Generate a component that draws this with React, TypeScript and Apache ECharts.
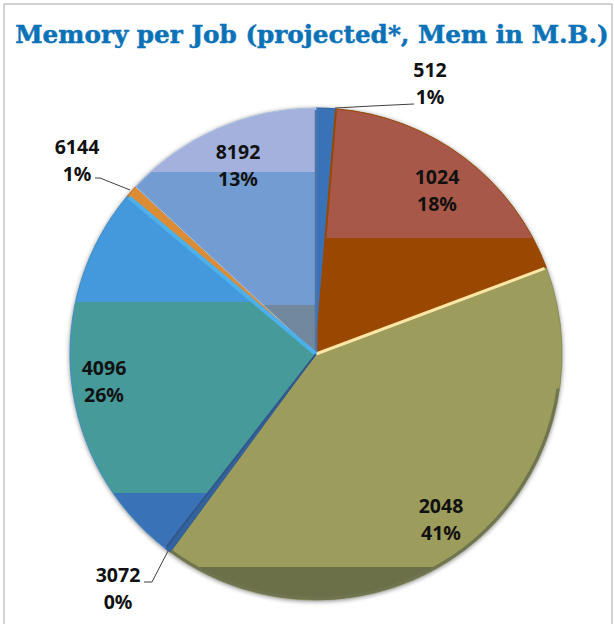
import React, { useEffect, useRef } from "react";
import * as echarts from "echarts";

const categories = ["512", "1024", "2048", "3072", "4096", "6144", "8192"];
const values = [1.3, 18.0, 40.8, 0.4, 25.6, 0.8, 13.1];
const titleText = "Memory per Job (projected*, Mem in M.B.)";

const CX = 316, CY = 354, R = 246;

function bands(stops: [number, string][]) {
  const top = CY - R, bottom = CY + R;
  const colorStops: { offset: number; color: string }[] = [];
  let prev = 0;
  stops.forEach(([y, c]) => {
    const o = Math.min(1, (y - top) / (bottom - top));
    colorStops.push({ offset: prev, color: c }, { offset: o, color: c });
    prev = o;
  });
  return { type: "linear", global: true, x: 0, y: top, x2: 0, y2: bottom, colorStops } as any;
}

const fills = [
  bands([[610, "#3a72b8"]]),
  bands([[238, "#a85848"], [610, "#9a4800"]]),
  bands([[567, "#9c9c5c"], [610, "#6c7048"]]),
  bands([[610, "#33639f"]]),
  bands([[302, "#4498dc"], [493, "#469a9a"], [610, "#3a72b8"]]),
  bands([[610, "#dc8c34"]]),
  bands([[172, "#a3b1dc"], [305, "#739dd2"], [610, "#72889f"]]),
];
const edges = ["#2f62a0", "#9a4800", "#8f9058", "#2f5c96", "#3f8fc8", "#b86c1c", "#a9c4e6"];

const labelSpots: Record<string, any> = {
  "512": { x: 430, y: 83, line: [[335, 108], [372, 106], [414, 104]] },
  "6144": { x: 77, y: 160, line: [[130, 190], [100, 178], [95, 178]] },
  "3072": { x: 118, y: 588, line: [[168, 551], [152, 582], [144, 582]] },
};
const insideSpots: Record<string, any> = {
  "1024": { x: 437, y: 190 },
  "2048": { x: 441, y: 519 },
  "4096": { x: 104, y: 381 },
  "8192": { x: 238, y: 165 },
};

// boundary angle (clockwise from 12 o'clock, in radians) after slice i, taken from the data
const total = values.reduce((a, b) => a + b, 0);
function boundary(i: number) {
  let s = 0;
  for (let k = 0; k <= i; k++) s += values[k];
  return (s / total) * Math.PI * 2;
}
function edgeLine(i: number, color: string, lineWidth: number) {
  const a = boundary(i);
  return {
    type: "line",
    z: 10,
    silent: true,
    shape: { x1: CX, y1: CY, x2: CX + (R - 2) * Math.sin(a), y2: CY - (R - 2) * Math.cos(a) },
    style: { stroke: color, lineWidth },
  };
}
function rim(i: number, skip: number, color: string, lineWidth: number) {
  return {
    type: "arc",
    z: 10,
    silent: true,
    shape: {
      cx: CX,
      cy: CY,
      r: R - 1.5,
      startAngle: boundary(i - 1) + skip - Math.PI / 2,
      endAngle: boundary(i) - Math.PI / 2,
    },
    style: { stroke: color, fill: "none", lineWidth },
  };
}

export default function App() {
  const ref = useRef<HTMLDivElement>(null);
  useEffect(() => {
    const chart = echarts.init(ref.current!, null, { renderer: "svg" });
    chart.setOption({
      animation: false,
      backgroundColor: "#ffffff",
      title: {
        text: titleText,
        left: 307,
        top: 17,
        textAlign: "center",
        textStyle: {
          fontFamily: "DejaVu Serif",
          fontWeight: "bold",
          fontSize: 24.7,
          color: "#0b72b8",
          textBorderColor: "#0b72b8",
          textBorderWidth: 0.5,
        },
      },
      graphic: [
        { type: "rect", z: 0, shape: { x: 4, y: 4, width: 608, height: 700 }, style: { fill: "none", stroke: "#a6a6a6", lineWidth: 1 } },
        { type: "circle", z: 0, shape: { cx: CX, cy: CY, r: R }, style: { fill: "#888888", shadowBlur: 5, shadowColor: "rgba(0,0,0,0.55)", shadowOffsetY: 1 } },
        rim(2, 0.5, "#6e7550", 3),
        edgeLine(0, "#9a4800", 2),
        edgeLine(6, "#4f76a8", 2.5),
        edgeLine(1, "#fde6a6", 3),
        edgeLine(4, "#4cb0ec", 4),
        edgeLine(3, "#33568a", 2),
      ],
      series: [
        {
          type: "pie",
          z: 2,
          center: [CX, CY],
          radius: [0, R],
          startAngle: 90,
          clockwise: true,
          avoidLabelOverlap: false,
          percentPrecision: 0,
          data: categories.map((name, i) => ({
            name,
            value: values[i],
            itemStyle: { color: fills[i], borderColor: edges[i], borderWidth: 1 },
          })),
          label: {
            show: true,
            position: "outside",
            formatter: "{b}\n{d}%",
            fontFamily: "Noto Sans",
            fontWeight: "bold",
            fontSize: 19.5,
            lineHeight: 27,
            color: "#111111",
            align: "center",
          },
          labelLine: { show: true, lineStyle: { color: "#404040", width: 1 } },
          labelLayout: (p: any) => {
            const name = categories[p.dataIndex];
            const s = labelSpots[name];
            if (s) return { x: s.x, y: s.y, align: "center", verticalAlign: "middle", labelLinePoints: s.line };
            const t = insideSpots[name];
            return { x: t.x, y: t.y, align: "center", verticalAlign: "middle", labelLinePoints: [[t.x, t.y], [t.x, t.y], [t.x, t.y]] };
          },
          emphasis: { disabled: true },
        },
      ],
    } as any);
    return () => chart.dispose();
  }, []);
  return <div ref={ref} style={{ position: "absolute", left: 0, top: 0, width: 614, height: 624 }} />;
}
